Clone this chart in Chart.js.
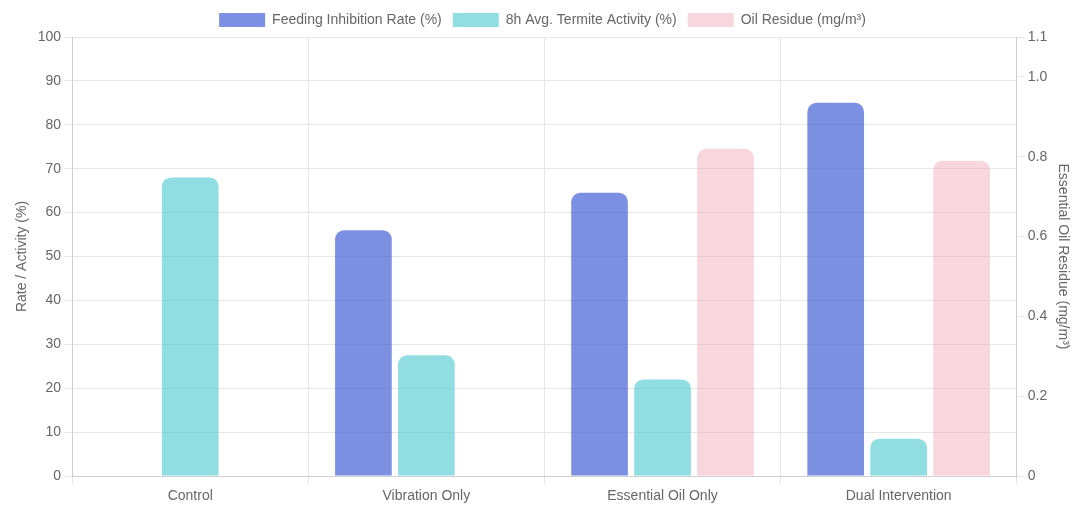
<!DOCTYPE html>
<html>
<head>
<meta charset="utf-8">
<script src="https://cdn.jsdelivr.net/npm/chart.js@4.4.0/dist/chart.umd.min.js"></script>
<style>
    html, body { margin: 0; padding: 0; background: #fff; }
    .chart-wrap { width: 1077px; height: 508px; position: relative; }
</style>
</head>
<body>
<div class="chart-wrap"><canvas id="termiteChart"></canvas></div>
<script>
// Data
const categories = ['Control', 'Vibration Only', 'Essential Oil Only', 'Dual Intervention'];
const feedingInhibition = [0, 56, 64.5, 85];
const termiteActivity = [68, 27.5, 22, 8.5];
const oilResidue = [0, 0, 0.82, 0.79];

Chart.defaults.font.family = '"Liberation Sans", Arial, sans-serif';
Chart.defaults.font.size = 14;
Chart.defaults.color = '#666';

const ctx = document.getElementById('termiteChart');
new Chart(ctx, {
    type: 'bar',
    data: {
        labels: categories,
        datasets: [{
            label: 'Feeding Inhibition Rate (%)',
            data: feedingInhibition,
            backgroundColor: 'rgba(67, 97, 214, 0.7)',
            borderRadius: 9,
            yAxisID: 'y'
        }, {
            label: '8h Avg. Termite Activity (%)',
            data: termiteActivity,
            backgroundColor: 'rgba(76, 201, 206, 0.62)',
            borderRadius: 9,
            yAxisID: 'y'
        }, {
            label: 'Oil Residue (mg/m³)',
            data: oilResidue,
            backgroundColor: 'rgba(240, 170, 184, 0.48)',
            borderRadius: 9,
            yAxisID: 'y1'
        }]
    },
    options: {
        responsive: true,
        maintainAspectRatio: false,
        animation: false,
        layout: { padding: { left: 10, right: 2, top: 2, bottom: 0 } },
        plugins: {
            legend: {
                position: 'top',
                labels: { boxWidth: 46, boxHeight: 14, padding: 11 }
            },
            tooltip: { enabled: false }
        },
        scales: {
            x: {
                ticks: { padding: 5, font: { lineHeight: 1.0 } },
                grid: { color: '#e6e6e6' }
            },
            y: {
                position: 'left',
                min: 0,
                max: 100,
                ticks: { stepSize: 10 },
                grid: { color: '#e6e6e6' },
                title: { display: true, text: 'Rate / Activity (%)' }
            },
            y1: {
                position: 'right',
                min: 0,
                max: 1.1,
                ticks: { stepSize: 0.2 },
                grid: { drawOnChartArea: false },
                title: { display: true, text: 'Essential Oil Residue (mg/m³)' }
            }
        }
    }
});
</script>
</body>
</html>
